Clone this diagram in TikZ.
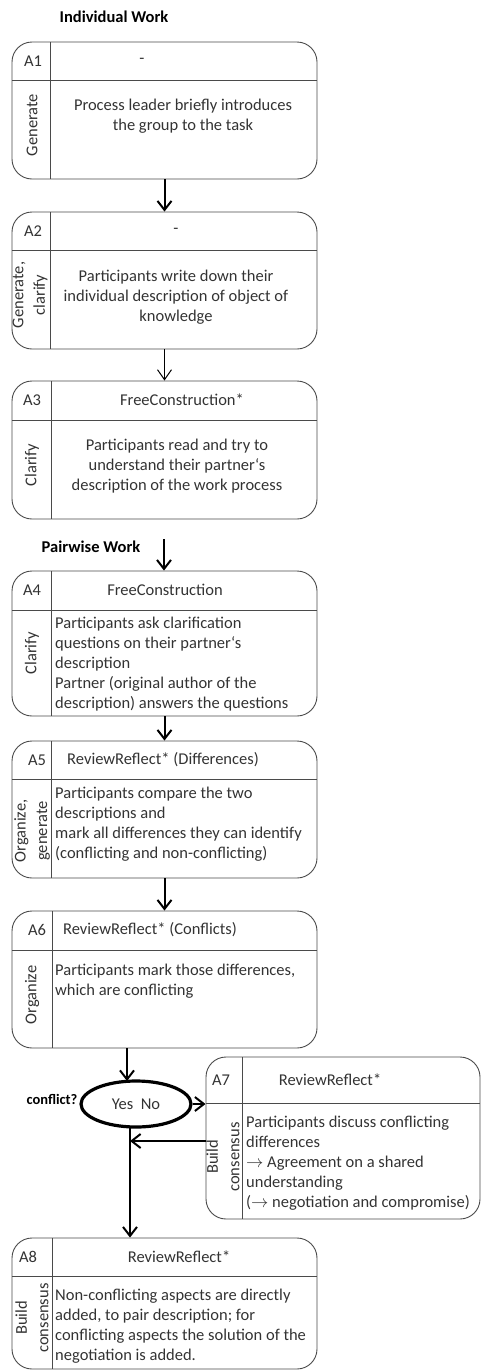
\documentclass[tikz,border=0pt]{standalone}
\usepackage{fontspec}
\setmainfont{Carlito}
\usetikzlibrary{arrows.meta,shapes.geometric,fit}
\definecolor{boxline}{HTML}{4A4A4A}
\definecolor{txt}{HTML}{333333}
\tikzset{
  actbox/.style={draw=boxline, line width=0.9pt, rounded corners=20pt, inner sep=0pt},
  divline/.style={draw=boxline, line width=0.9pt},
  body/.style={text=txt, font=\fontsize{16.5}{20}\selectfont, inner sep=0pt},
  bodyc/.style={body, align=center, anchor=north},
  bodyl/.style={body, align=left, anchor=north west},
  side/.style={body, align=center, rotate=90, font=\fontsize{16.5}{21.5}\selectfont},
  head/.style={body},
  title/.style={font=\bfseries\fontsize{16.5}{19}\selectfont, inner sep=0pt},
  arr/.style={draw=black, line width=2pt, -{Straight Barb[length=9pt,width=14pt]}},
  thinarr/.style={draw=black, line width=1pt, -{Straight Barb[length=10pt,width=14pt]}},
  decision/.style={ellipse, draw=black, line width=3.2pt, minimum width=110pt, minimum height=46pt, inner sep=0pt, text=txt, font=\fontsize{16.5}{20}\selectfont},
}
\newcommand\drawact[7]{%
  \node[actbox, fit={(#2,#3) (#4,#5)}] (#1) {};
  \draw[divline] (#2,#6) -- (#4,#6);
  \draw[divline] (#7,#3) -- (#7,#5);
}
\begin{document}
\begin{tikzpicture}[x=1pt,y=-1pt]
\useasboundingbox (0,0) rectangle (481,1371);

% titles
\node[title] (t1) at (114,17) {Individual Work};
\node[title] (t2) at (91,547) {Pairwise Work};
\node[title, font=\bfseries\fontsize{14.5}{17}\selectfont] (t3) at (52,1099) {conflict?};

% A1
\drawact{A1}{12}{42}{317}{179}{80}{50}
\node[head] (A1h) at (33,61) {A1};
\node[head] (A1t) at (142,61) {-};
\node[side] (A1s) at (32,125) {Generate};
\node[bodyc] (A1b) at (183,98.5) {Process leader briefly introduces\\the group to the task};

% A2
\drawact{A2}{12}{212}{317}{349}{250}{50}
\node[head] (A2h) at (33,231) {A2};
\node[head] (A2t) at (176,231) {-};
\node[side] (A2s) at (30,295) {Generate,\\clarify};
\node[bodyc] (A2b) at (176,269.5) {Participants write down their\\individual description of object of\\knowledge};

% A3
\drawact{A3}{12}{381}{317}{519}{420}{51}
\node[head] (A3h) at (32,400) {A3};
\node[head] (A3t) at (182,400) {FreeConstruction*};
\node[side] (A3s) at (32,465) {Clarify};
\node[bodyc] (A3b) at (177,438.5) {Participants read and try to\\understand their partner‘s\\description of the work process};

% A4
\drawact{A4}{12}{571}{317}{716}{610}{51}
\node[head] (A4h) at (32,590) {A4};
\node[head] (A4t) at (165,590) {FreeConstruction};
\node[side] (A4s) at (32,653) {Clarify};
\node[bodyl] (A4b) at (55,616.5) {Participants ask clarification\\questions on their partner‘s\\description\\Partner (original author of the\\description) answers the questions};

% A5
\drawact{A5}{12}{741}{317}{878}{779}{51}
\node[head] (A5h) at (37,760) {A5};
\node[head] (A5t) at (163,760) {ReviewReflect* (Differences)};
\node[side] (A5s) at (32,831) {Organize,\\generate};
\node[bodyl] (A5b) at (55,786.5) {Participants compare the two\\descriptions and\\mark all differences they can identify\\(conflicting and non-conflicting)};

% A6
\drawact{A6}{12}{911}{317}{1048}{950}{52}
\node[head] (A6h) at (37,930) {A6};
\node[head] (A6t) at (150,930) {ReviewReflect* (Conflicts)};
\node[side] (A6s) at (32,995) {Organize};
\node[bodyl] (A6b) at (55,963.5) {Participants mark those differences,\\which are conflicting};

% A7
\drawact{A7}{206}{1057}{480}{1219}{1103}{242}
\node[head] (A7h) at (221,1080) {A7};
\node[head] (A7t) at (330,1080) {ReviewReflect*};
\node[side] (A7s) at (223,1157) {Build\\consensus};
\node[bodyl] (A7b) at (246,1115.5) {Participants discuss conflicting\\differences\\\ensuremath{\rightarrow} Agreement on a shared\\understanding\\(\ensuremath{\rightarrow} negotiation and compromise)};

% A8
\drawact{A8}{12}{1238}{317}{1369}{1276}{52}
\node[head] (A8h) at (28,1257) {A8};
\node[head] (A8t) at (179,1257) {ReviewReflect*};
\node[side] (A8s) at (32,1318) {Build\\consensus};
\node[bodyl] (A8b) at (55,1288.5) {Non-conflicting aspects are directly\\added, to pair description; for\\conflicting aspects the solution of the\\negotiation is added.};

% decision
\node[decision] (D) at (136,1104) {Yes\ \ No};

% helper coordinates
\coordinate (p34) at (164,539);
\coordinate (xa) at (127,0);
\coordinate (xb) at (130,0);
\coordinate (yb) at (0,1141);

% connectors
\draw[arr] (A1.south) -- (A2.north);
\draw[thinarr] (A2.south) -- (A3.north);
\draw[arr] (p34) -- (p34 |- A4.north);
\draw[arr] (A4.south) -- (A5.north);
\draw[arr] (A5.south) -- (A6.north);
\draw[arr] (xa |- A6.south) -- (127,1081);
\draw[arr] (D.east) -- (D.east -| A7.west);
\draw[arr] (A7.west |- yb) -- (xb |- yb);
\draw[arr] (130,1127) -- (xb |- A8.north);
\end{tikzpicture}
\end{document}
